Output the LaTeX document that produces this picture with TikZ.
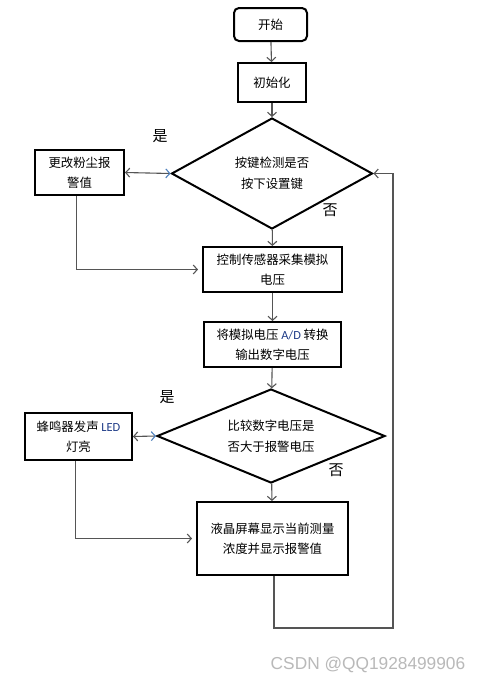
\documentclass[tikz,border=0pt]{standalone}
\usepackage{fontspec}
\newfontfamily\cjk{Noto Sans CJK SC}
\newfontfamily\latinf{Carlito}
\newfontfamily\wmfont{Liberation Sans}
\usetikzlibrary{shapes.geometric,arrows.meta}
\definecolor{connc}{HTML}{555555}
\definecolor{ledblue}{HTML}{1F3C88}
\definecolor{tipblue}{HTML}{4F81BD}
\newcommand{\eng}[1]{{\latinf\color{ledblue}#1}}
\begin{document}
\begin{tikzpicture}[x=1pt,y=-1pt,
  box/.style={draw=black,line width=2pt,align=center,font=\cjk\fontsize{12.4}{20}\selectfont,inner sep=0pt},
  dec/.style={diamond,draw=black,line width=2pt,align=center,font=\cjk\fontsize{12.4}{21}\selectfont,inner sep=0pt},
  conn/.style={draw=connc,line width=1.1pt},
  arr/.style={conn,-{Straight Barb[length=4pt,width=9pt]}},
  lbl/.style={font=\cjk\fontsize{15}{15}\selectfont}]
\useasboundingbox (0,0) rectangle (481,683);
\fill[white] (0,0) rectangle (481,683);

\node[box,rounded corners=5pt,minimum width=73pt,minimum height=33pt] (start) at (270.5,24.5) {开始};
\node[box,minimum width=68pt,minimum height=39pt] (init) at (272,82.5) {初始化};
\node[dec,aspect=1.81,minimum width=201pt,minimum height=111pt] (d1) at (272,173.5) {按键检测是否\\按下设置键};
\node[box,minimum width=89pt,minimum height=45pt] (chg) at (79.5,172.5) {更改粉尘报\\警值};
\node[box,minimum width=139pt,minimum height=45pt] (ctrl) at (272.5,269.5) {控制传感器采集模拟\\电压};
\node[box,minimum width=137pt,minimum height=45pt] (ad) at (272.5,344.5) {将模拟电压 \eng{A/D} 转换\\输出数字电压};
\node[dec,aspect=2.43,minimum width=228pt,minimum height=94pt] (d2) at (271,436) {比较数字电压是\\否大于报警电压};
\node[box,minimum width=107pt,minimum height=47pt] (buzz) at (78.5,436.5) {蜂鸣器发声 \eng{LED}\\灯亮};
\node[box,minimum width=151pt,minimum height=73pt] (lcd) at (272.5,538.5) {液晶屏幕显示当前测量\\浓度并显示报警值};

\node[lbl] (yes1) at (160,136) {是};
\node[lbl] (no1) at (330,210) {否};
\node[lbl] (yes2) at (167,397) {是};
\node[lbl] (no2) at (336,470) {否};

\coordinate (c1) at (393,628);

\draw[arr] (start) -- (init);
\draw[arr] (init) -- (d1);
\draw[arr] (d1) -- (ctrl);
\draw[arr] (ctrl) -- (ad);
\draw[arr] (ad) -- (d2);
\draw[arr] (d2) -- (lcd);
\draw[conn,{Straight Barb[length=4pt,width=9pt]}-{Straight Barb[length=4pt,width=9pt,color=tipblue]}] (chg.east) -- (d1.west);
\draw[conn,{Straight Barb[length=4pt,width=9pt]}-{Straight Barb[length=4pt,width=9pt,color=tipblue]}] (buzz.east) -- (d2.west);
\draw[arr,shorten >=4pt] ([xshift=-3pt]chg.south) |- (ctrl.west);
\draw[arr,shorten >=4pt] ([xshift=-3pt]buzz.south) |- (lcd.west);
\draw[arr] ([xshift=1.5pt]lcd.south) |- (c1) |- (d1.east);

\node[font=\wmfont\fontsize{17.3}{17}\selectfont,text=gray!55] (wm) at (368,665) {CSDN @QQ1928499906};
\end{tikzpicture}
\end{document}
